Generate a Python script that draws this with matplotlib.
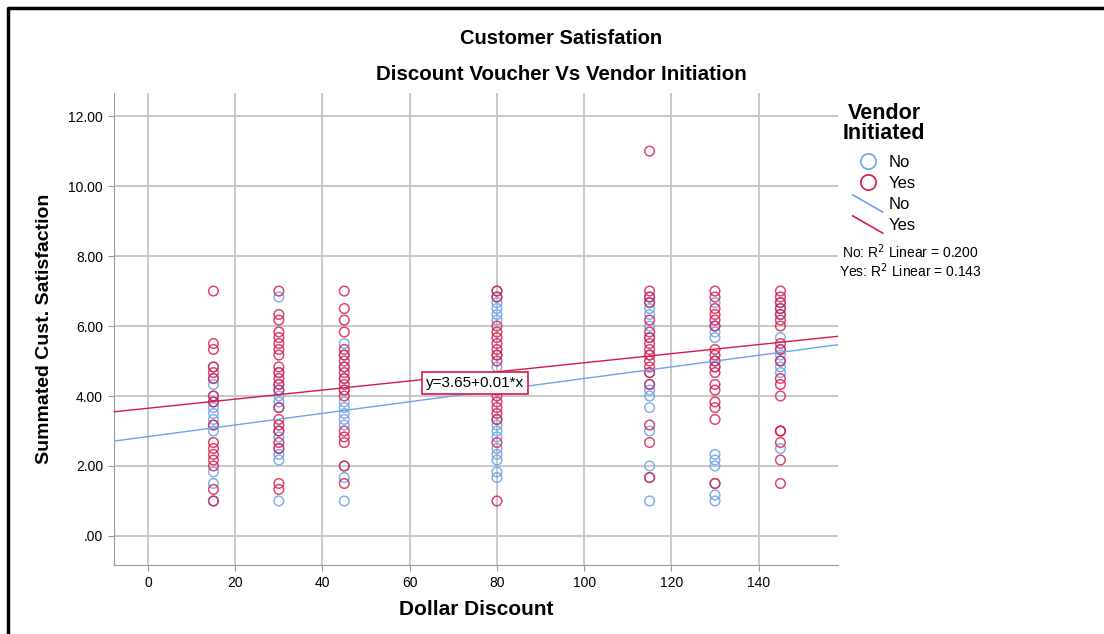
import matplotlib
matplotlib.use('Agg')
import matplotlib.pyplot as plt
import numpy as np
from matplotlib.lines import Line2D
from matplotlib.legend_handler import HandlerBase

plt.rcParams['font.family'] = ['Liberation Sans', 'DejaVu Sans']

discounts = [15, 30, 45, 80, 115, 130, 145]

# summated satisfaction per discount level, vendor initiated = No
no_vals = [
    [4.83, 4.5, 4.33, 4.0, 3.83, 3.67, 3.5, 3.33, 3.17, 3.0, 1.83, 1.5, 1.0],
    [6.83, 4.67, 4.33, 4.17, 4.0, 3.83, 3.67, 3.0, 2.83, 2.5, 2.33, 2.17, 1.0],
    [5.5, 5.17, 4.83, 4.5, 4.17, 3.83, 3.67, 3.5, 3.33, 3.17, 2.0, 1.67, 1.0],
    [7.0, 6.83, 6.67, 6.5, 6.33, 6.17, 5.17, 4.83, 4.5, 3.33, 3.17, 3.0, 2.83,
     2.5, 2.33, 2.17, 1.83, 1.67],
    [6.83, 6.67, 6.5, 6.33, 6.0, 5.67, 5.17, 4.67, 4.33, 4.17, 4.0, 3.67, 3.0,
     2.0, 1.67, 1.0],
    [6.67, 6.0, 5.83, 5.67, 5.0, 4.83, 2.33, 2.17, 2.0, 1.5, 1.17, 1.0],
    [6.67, 6.5, 6.33, 5.67, 5.33, 5.17, 5.0, 4.83, 4.67, 2.5],
]
# vendor initiated = Yes
yes_vals = [
    [7.0, 5.5, 5.33, 4.83, 4.67, 4.5, 4.0, 3.83, 3.17, 2.67, 2.5, 2.33, 2.17,
     2.0, 1.33, 1.0],
    [7.0, 6.33, 6.17, 5.83, 5.67, 5.5, 5.33, 5.17, 4.83, 4.67, 4.5, 4.33, 4.17,
     3.67, 3.33, 3.17, 3.0, 2.67, 2.5, 1.5, 1.33],
    [7.0, 6.5, 6.17, 5.83, 5.33, 5.17, 5.0, 4.83, 4.67, 4.5, 4.33, 4.17, 4.0,
     3.0, 2.83, 2.67, 2.0, 1.5],
    [7.0, 6.83, 6.0, 5.83, 5.67, 5.5, 5.33, 5.17, 5.0, 4.17, 4.0, 3.83, 3.67,
     3.5, 3.33, 2.67, 1.0],
    [11.0, 7.0, 6.83, 6.67, 6.17, 5.83, 5.67, 5.5, 5.33, 5.17, 5.0, 4.83, 4.67,
     4.33, 3.17, 2.67, 1.67],
    [7.0, 6.83, 6.5, 6.33, 6.17, 6.0, 5.33, 5.17, 5.0, 4.83, 4.67, 4.33, 4.17,
     3.83, 3.67, 3.33, 1.5],
    [7.0, 6.83, 6.67, 6.5, 6.33, 6.17, 6.0, 5.5, 5.33, 5.0, 4.5, 4.33, 4.0,
     3.0, 3.0, 2.67, 2.17, 1.5],
]

# fit lines
no_fit = (2.84, 0.0166)
yes_fit = (3.65, 0.0130)
r2_no = 0.200
r2_yes = 0.143

blue = '#6fa3ea'
red = '#d7194a'


class DiagHandler(HandlerBase):
    def create_artists(self, legend, orig, xd, yd, w, h, fontsize, trans):
        ln = Line2D([-xd, w - xd], [h - yd + 2, -yd - 2], color=orig.get_color(),
                    lw=1.2, transform=trans)
        return [ln]


fig = plt.figure(figsize=(11.04, 6.34), dpi=100)
ax = fig.add_axes([114/1104, 1 - 565/634, (838-114)/1104, (565-93)/634])

xmin, xmax = -7.8, 158.2
ax.set_xlim(xmin, xmax)
ax.set_ylim(-0.83, 12.66)

for d, vals in zip(discounts, no_vals):
    ax.scatter([d]*len(vals), vals, s=48, facecolors='none', edgecolors=blue,
               linewidths=1.1, alpha=0.85, zorder=3)
for d, vals in zip(discounts, yes_vals):
    ax.scatter([d]*len(vals), vals, s=48, facecolors='none', edgecolors=red,
               linewidths=1.1, alpha=0.8, zorder=4)

xx = np.array([xmin, xmax])
ax.plot(xx, no_fit[0] + no_fit[1]*xx, color=blue, lw=1, zorder=5)
ax.plot(xx, yes_fit[0] + yes_fit[1]*xx, color=red, lw=1, zorder=5)

ax.text(75, 4.37, 'y=%.2f+%.2f*x' % (yes_fit[0], yes_fit[1]), fontsize=11,
        ha='center', va='center', zorder=6,
        bbox=dict(boxstyle='square,pad=0.25', fc='white', ec=red, lw=1.2))

ax.set_xticks(np.arange(0, 141, 20))
ax.set_yticks(np.arange(0, 12.1, 2))
ax.set_yticklabels(['.00' if v == 0 else '%.2f' % v for v in np.arange(0, 12.1, 2)])
ax.grid(True, color='#c4c4c4', lw=1.3)
ax.set_axisbelow(True)
ax.tick_params(labelsize=10, length=4, color='#9a9a9a', pad=4)
for s in ['top', 'right']:
    ax.spines[s].set_visible(False)
for s in ['left', 'bottom']:
    ax.spines[s].set_color('#9a9a9a')

ax.set_xlabel('Dollar Discount', fontsize=15, fontweight='bold', labelpad=7)
ax.set_ylabel('Summated Cust. Satisfaction', fontsize=14, fontweight='bold',
              labelpad=11)

fig.text(561/1104, 1 - 38/634, 'Customer Satisfation', fontsize=14.5,
         fontweight='bold', ha='center', va='center')
fig.text(561/1104, 1 - 75/634, 'Discount Voucher Vs Vendor Initiation',
         fontsize=14.8, fontweight='bold', ha='center', va='center')

handles = [
    Line2D([], [], ls='none', marker='o', ms=11, mfc='none', mec=blue, mew=1.2),
    Line2D([], [], ls='none', marker='o', ms=11, mfc='none', mec=red, mew=1.2),
    Line2D([], [], color=blue),
    Line2D([], [], color=red),
]
leg = fig.legend(handles, ['No', 'Yes', 'No', 'Yes'],
                 handler_map={handles[2]: DiagHandler(), handles[3]: DiagHandler()},
                 loc='upper left', bbox_to_anchor=(843/1104, 1 - 103/634),
                 frameon=False, fontsize=12, handlelength=1.8, handletextpad=0.36,
                 labelspacing=0.36, borderpad=0, borderaxespad=0)
leg.set_title('Vendor\nInitiated', prop={'size': 15.5, 'weight': 'bold'})
leg.get_title().set_multialignment('center')
leg.get_title().set_linespacing(0.95)
leg._legend_box.sep = 8

fig.text(910/1104, 1 - 261/634,
         'No: R$^2$ Linear = %.3f\nYes: R$^2$ Linear = %.3f' % (r2_no, r2_yes),
         fontsize=10, ha='center', va='center', multialignment='center',
         linespacing=1.0)

# outer frame of the output viewer
fig.add_artist(Line2D([8/1104, 8/1104, 1], [0, 1 - 8/634, 1 - 8/634],
                      transform=fig.transFigure, color='black', lw=2.5))

fig.savefig('out.png', dpi=100)
